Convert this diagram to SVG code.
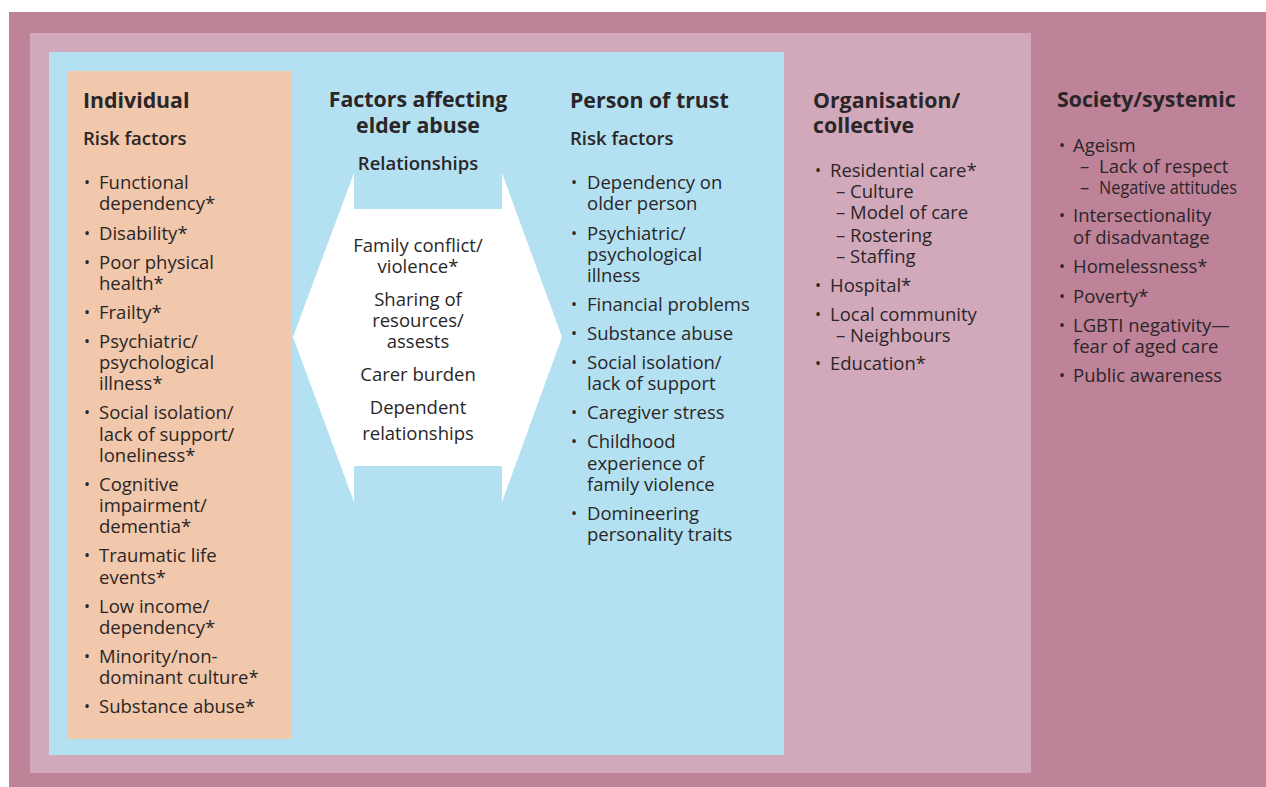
<svg xmlns="http://www.w3.org/2000/svg" width="1266" height="787" viewBox="0 0 1266 787">
  <style>
    text { font-family: "Open Sans", "Noto Sans", "DejaVu Sans", sans-serif; fill: #2a2627; }
    .h { font-size: 21.3px; font-weight: 700; }
    .sh { font-size: 18.5px; font-weight: 600; }
    .t { font-size: 18.5px; font-weight: 400; }
    .b { font-size: 16px; font-weight: 400; }
    .c { text-anchor: middle; }
  </style>

  <!-- nested context layers -->
  <g id="layer-society">
    <rect x="9" y="12" width="1257" height="775" fill="#be8299"/>
  </g>
  <g id="layer-organisation">
    <rect x="30" y="33" width="1001" height="740" fill="#d2a9bb"/>
  </g>
  <g id="layer-relationship">
    <rect x="49" y="52" width="735" height="703" fill="#b3e1f2"/>
  </g>
  <g id="layer-individual">
    <rect x="68" y="71" width="223" height="668" fill="#f1c8ab"/>
  </g>

  <!-- double-headed arrow between individual and person of trust -->
  <g id="connectors">
    <polygon points="293,337 354,173 354,209 502,209 502,173 562,337 502,502 502,466 354,466 354,502" fill="#ffffff"/>
  </g>

  <!-- Individual -->
  <g id="node-individual">
    <text class="h" x="83" y="108">Individual</text>
    <text class="sh" x="83" y="145">Risk factors</text>
    <g class="bullets">
      <text class="b" x="84" y="188">•</text>
      <text class="b" x="84" y="239">•</text>
      <text class="b" x="84" y="268">•</text>
      <text class="b" x="84" y="318">•</text>
      <text class="b" x="84" y="347">•</text>
      <text class="b" x="84" y="418">•</text>
      <text class="b" x="84" y="490">•</text>
      <text class="b" x="84" y="561">•</text>
      <text class="b" x="84" y="612">•</text>
      <text class="b" x="84" y="662">•</text>
      <text class="b" x="84" y="712">•</text>
    </g>
    <text class="t" x="99" y="189">Functional</text>
    <text class="t" x="99" y="210">dependency*</text>
    <text class="t" x="99" y="240">Disability*</text>
    <text class="t" x="99" y="269">Poor physical</text>
    <text class="t" x="99" y="290">health*</text>
    <text class="t" x="99" y="319">Frailty*</text>
    <text class="t" x="99" y="348">Psychiatric/</text>
    <text class="t" x="99" y="369">psychological</text>
    <text class="t" x="99" y="390">illness*</text>
    <text class="t" x="99" y="419">Social isolation/</text>
    <text class="t" x="99" y="441">lack of support/</text>
    <text class="t" x="99" y="462">loneliness*</text>
    <text class="t" x="99" y="491">Cognitive</text>
    <text class="t" x="99" y="512">impairment/</text>
    <text class="t" x="99" y="533">dementia*</text>
    <text class="t" x="99" y="562">Traumatic life</text>
    <text class="t" x="99" y="584">events*</text>
    <text class="t" x="99" y="613">Low income/</text>
    <text class="t" x="99" y="634">dependency*</text>
    <text class="t" x="99" y="663">Minority/non-</text>
    <text class="t" x="99" y="684">dominant culture*</text>
    <text class="t" x="99" y="713">Substance abuse*</text>
  </g>

  <!-- Relationship factors -->
  <g id="node-relationships">
    <text class="h c" x="418" y="107">Factors affecting</text>
    <text class="h c" x="418" y="133">elder abuse</text>
    <text class="sh c" x="418" y="170">Relationships</text>
    <text class="t c" x="418" y="252">Family conflict/</text>
    <text class="t c" x="418" y="273">violence*</text>
    <text class="t c" x="418" y="306">Sharing of</text>
    <text class="t c" x="418" y="327">resources/</text>
    <text class="t c" x="418" y="348">assests</text>
    <text class="t c" x="418" y="381">Carer burden</text>
    <text class="t c" x="418" y="414">Dependent</text>
    <text class="t c" x="418" y="440">relationships</text>
  </g>

  <!-- Person of trust -->
  <g id="node-person-of-trust">
    <text class="h" x="570" y="108">Person of trust</text>
    <text class="sh" x="570" y="145">Risk factors</text>
    <g class="bullets">
      <text class="b" x="571" y="188">•</text>
      <text class="b" x="571" y="239">•</text>
      <text class="b" x="571" y="310">•</text>
      <text class="b" x="571" y="339">•</text>
      <text class="b" x="571" y="368">•</text>
      <text class="b" x="571" y="418">•</text>
      <text class="b" x="571" y="447">•</text>
      <text class="b" x="571" y="519">•</text>
    </g>
    <text class="t" x="587" y="189">Dependency on</text>
    <text class="t" x="587" y="210">older person</text>
    <text class="t" x="587" y="240">Psychiatric/</text>
    <text class="t" x="587" y="261">psychological</text>
    <text class="t" x="587" y="282">illness</text>
    <text class="t" x="587" y="311">Financial problems</text>
    <text class="t" x="587" y="340">Substance abuse</text>
    <text class="t" x="587" y="369">Social isolation/</text>
    <text class="t" x="587" y="390">lack of support</text>
    <text class="t" x="587" y="419">Caregiver stress</text>
    <text class="t" x="587" y="448">Childhood</text>
    <text class="t" x="587" y="470">experience of</text>
    <text class="t" x="587" y="491">family violence</text>
    <text class="t" x="587" y="520">Domineering</text>
    <text class="t" x="587" y="541">personality traits</text>
  </g>

  <!-- Organisation / collective -->
  <g id="node-organisation">
    <text class="h" x="813" y="108">Organisation/</text>
    <text class="h" x="813" y="133">collective</text>
    <g class="bullets">
      <text class="b" x="815" y="176">•</text>
      <text class="b" x="815" y="291">•</text>
      <text class="b" x="815" y="320">•</text>
      <text class="b" x="815" y="369">•</text>
    </g>
    <text class="t" x="830" y="177">Residential care*</text>
    <text class="t" x="836" y="198">– Culture</text>
    <text class="t" x="836" y="219">– Model of care</text>
    <text class="t" x="836" y="242">– Rostering</text>
    <text class="t" x="836" y="263">– Staffing</text>
    <text class="t" x="830" y="292">Hospital*</text>
    <text class="t" x="830" y="321">Local community</text>
    <text class="t" x="836" y="342">– Neighbours</text>
    <text class="t" x="830" y="370">Education*</text>
  </g>

  <!-- Society / systemic -->
  <g id="node-society">
    <text class="h" x="1057" y="107">Society/systemic</text>
    <g class="bullets">
      <text class="b" x="1059" y="151">•</text>
      <text class="b" x="1059" y="221">•</text>
      <text class="b" x="1059" y="272">•</text>
      <text class="b" x="1059" y="302">•</text>
      <text class="b" x="1059" y="331">•</text>
      <text class="b" x="1059" y="381">•</text>
    </g>
    <text class="t" x="1073" y="152">Ageism</text>
    <text class="t" x="1080" y="173">–</text>
    <text class="t" x="1099" y="173">Lack of respect</text>
    <text class="t" x="1080" y="194">–</text>
    <text class="t" x="1099" y="194" textLength="138" lengthAdjust="spacingAndGlyphs">Negative attitudes</text>
    <text class="t" x="1073" y="222">Intersectionality</text>
    <text class="t" x="1073" y="244">of disadvantage</text>
    <text class="t" x="1073" y="273">Homelessness*</text>
    <text class="t" x="1073" y="303">Poverty*</text>
    <text class="t" x="1073" y="332">LGBTI negativity—</text>
    <text class="t" x="1073" y="353">fear of aged care</text>
    <text class="t" x="1073" y="382">Public awareness</text>
  </g>
</svg>
